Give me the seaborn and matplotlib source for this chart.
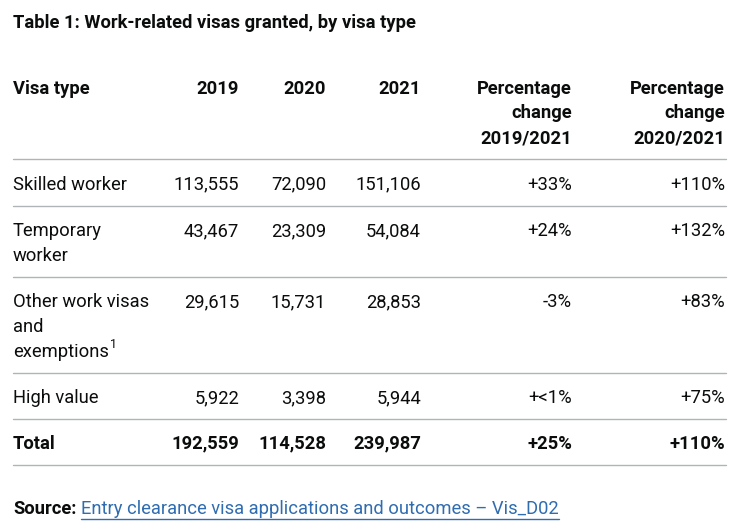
import matplotlib
matplotlib.use("Agg")
import matplotlib.pyplot as plt
import seaborn as sns

# table data
visa_types = ["Skilled worker", "Temporary\nworker", "Other work visas\nand\nexemptions", "High value"]
v2019 = [113555, 43467, 29615, 5922]
v2020 = [72090, 23309, 15731, 3398]
v2021 = [151106, 54084, 28853, 5944]
pct_19_21 = ["+33%", "+24%", "-3%", "+<1%"]
pct_20_21 = ["+110%", "+132%", "+83%", "+75%"]
total_label = "Total"
total_vals = [192559, 114528, 239987]
total_pct = ["+25%", "+110%"]
col_headers = ["Visa type", "2019", "2020", "2021",
               "Percentage\nchange\n2019/2021", "Percentage\nchange\n2020/2021"]

sns.set_theme(style="white")
plt.rcParams['font.family'] = ['Roboto', 'DejaVu Sans']

W, H = 746, 527
fig = plt.figure(figsize=(W / 100, H / 100), dpi=100)
ax = fig.add_axes([0, 0, 1, 1])
ax.set_xlim(0, W)
ax.set_ylim(H, 0)
ax.axis("off")

ink = "#0b0c0c"
rule = "#b1b4b6"
link = "#2f6cb0"
fs = 13.2
lh = 24.8
dy = 1.5  # text nudge so glyphs sit like the original

left = 13
right = 726
col_right = [239, 326, 421, 572, 725]

ax.text(left, 21 + dy, "Table 1: Work-related visas granted, by visa type",
        fontsize=13.2, fontweight="bold", color=ink, va="center")

# header
top = 87 + dy
ax.text(left, top, col_headers[0], fontsize=fs, fontweight="bold", color=ink, va="center")
for x, h in zip(col_right, col_headers[1:]):
    for k, part in enumerate(h.split("\n")):
        ax.text(x, top + k * lh, part, fontsize=fs, fontweight="bold",
                color=ink, va="center", ha="right")

y_line = 159
ax.plot([left, right], [y_line, y_line], color=rule, lw=1)

fig.canvas.draw()
renderer = fig.canvas.get_renderer()

y = y_line
for i, name in enumerate(visa_types):
    y0 = y + 24 + dy
    lines = name.split("\n")
    for k, part in enumerate(lines):
        t = ax.text(left, y0 + k * lh, part, fontsize=fs, color=ink, va="center")
        if i == 2 and k == len(lines) - 1:
            bb = t.get_window_extent(renderer=renderer)
            ax.text(bb.x1 + 1, y0 + k * lh - 7, "1", fontsize=9, color=ink, va="center")
    vals = [f"{v2019[i]:,}", f"{v2020[i]:,}", f"{v2021[i]:,}", pct_19_21[i], pct_20_21[i]]
    for x, v in zip(col_right, vals):
        ax.text(x, y0, v, fontsize=fs, color=ink, va="center", ha="right")
    y = y0 - dy + (len(lines) - 1) * lh + 22.5
    ax.plot([left, right], [y, y], color=rule, lw=1)

y0 = y + 23 + dy
ax.text(left, y0, total_label, fontsize=fs, fontweight="bold", color=ink, va="center")
tvals = [f"{v:,}" for v in total_vals] + total_pct
for x, v in zip(col_right, tvals):
    ax.text(x, y0, v, fontsize=fs, fontweight="bold", color=ink, va="center", ha="right")
y = y0 - dy + 23
ax.plot([left, right], [y, y], color=rule, lw=1)

# source line
ys = 508 + dy
s = ax.text(left, ys, "Source:", fontsize=fs, fontweight="bold", color=ink, va="center")
bb = s.get_window_extent(renderer=renderer)
lt = ax.text(bb.x1 + 5, ys, "Entry clearance visa applications and outcomes \u2013 Vis_D02",
             fontsize=fs, color=link, va="center")
lb = lt.get_window_extent(renderer=renderer)
ax.plot([lb.x0, lb.x1], [ys + 9, ys + 9], color=link, lw=1)

fig.savefig("out.png", dpi=100, facecolor="white")
